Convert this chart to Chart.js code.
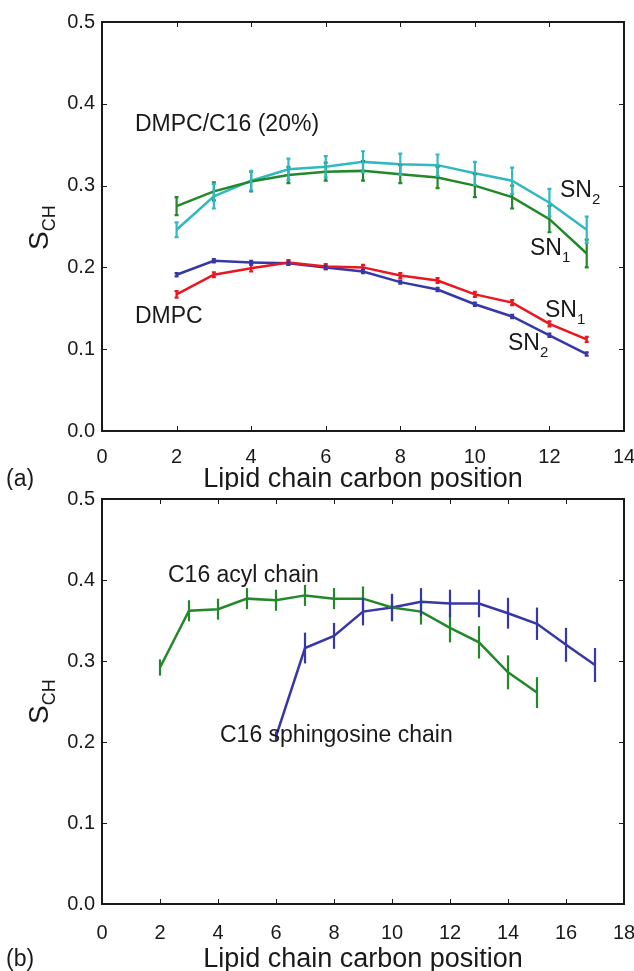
<!DOCTYPE html>
<html>
<head>
<meta charset="utf-8">
<script src="https://cdn.jsdelivr.net/npm/chart.js@4.4.1/dist/chart.umd.min.js"></script>
<style>
  html, body { margin: 0; padding: 0; background: #fff; }
  #wrap { position: relative; width: 634px; height: 971px; }
  .panel { position: absolute; left: 0; width: 634px; }
  #top { top: 0; height: 490px; }
  #bottom { top: 490px; height: 481px; }
</style>
</head>
<body>
<div id="wrap">
  <div class="panel" id="top"><canvas id="chartA"></canvas></div>
  <div class="panel" id="bottom"><canvas id="chartB"></canvas></div>
</div>
<script>
// ---- data, panel (a) ----
const positionsA = [2, 3, 4, 5, 6, 7, 8, 9, 10, 11, 12, 13];
const mixSn2 = [0.246, 0.287, 0.306, 0.320, 0.323, 0.329, 0.326, 0.325, 0.315, 0.306, 0.279, 0.246];
const mixSn2Err = [0.009, 0.015, 0.012, 0.013, 0.013, 0.013, 0.013, 0.013, 0.014, 0.016, 0.017, 0.016];
const mixSn1 = [0.275, 0.293, 0.305, 0.313, 0.317, 0.318, 0.314, 0.310, 0.300, 0.286, 0.259, 0.217];
const mixSn1Err = [0.011, 0.011, 0.012, 0.010, 0.011, 0.012, 0.011, 0.013, 0.014, 0.014, 0.016, 0.017];
const dmpcSn2 = [0.191, 0.208, 0.206, 0.205, 0.200, 0.195, 0.182, 0.173, 0.155, 0.140, 0.117, 0.094];
const dmpcSn2Err = [0.002, 0.002, 0.002, 0.002, 0.002, 0.002, 0.002, 0.002, 0.002, 0.002, 0.002, 0.002];
const dmpcSn1 = [0.167, 0.191, 0.199, 0.206, 0.201, 0.200, 0.190, 0.184, 0.167, 0.157, 0.131, 0.112];
const dmpcSn1Err = [0.004, 0.003, 0.004, 0.003, 0.003, 0.003, 0.003, 0.003, 0.003, 0.003, 0.003, 0.003];
const xTicksA = [0, 2, 4, 6, 8, 10, 12, 14];

// ---- data, panel (b) ----
const positionsAcyl = [2, 3, 4, 5, 6, 7, 8, 9, 10, 11, 12, 13, 14, 15];
const acylChain = [0.292, 0.362, 0.364, 0.377, 0.375, 0.381, 0.377, 0.377, 0.366, 0.361, 0.341, 0.323, 0.286, 0.261];
const acylChainErr = [0.010, 0.013, 0.013, 0.013, 0.013, 0.013, 0.013, 0.015, 0.016, 0.016, 0.018, 0.020, 0.021, 0.019];
const positionsSph = [6, 7, 8, 9, 10, 11, 12, 13, 14, 15, 16, 17];
const sphChain = [0.207, 0.316, 0.331, 0.361, 0.366, 0.373, 0.371, 0.371, 0.359, 0.346, 0.320, 0.295];
const sphChainErr = [0.006, 0.019, 0.016, 0.017, 0.017, 0.017, 0.017, 0.017, 0.019, 0.020, 0.021, 0.021];
const xTicksB = [0, 2, 4, 6, 8, 10, 12, 14, 16, 18];

const yTicks = [0, 0.1, 0.2, 0.3, 0.4, 0.5];

const FONT = '"Liberation Sans", Arial, Helvetica, sans-serif';
const COLORS = { cyan: '#30b9c2', green: '#23882a', blue: '#3737a8', red: '#ea1620' };

function series(xs, ys, errs, color, capW) {
  return {
    data: xs.map((x, i) => ({ x: x, y: ys[i] })),
    errors: errs,
    capW: capW,
    borderColor: color,
    backgroundColor: color,
    borderWidth: 2.5,
    pointRadius: 0,
    showLine: true,
    tension: 0
  };
}

// draws vertical error bars using the chart scales
const errorBars = {
  id: 'errorBars',
  afterDatasetsDraw(chart) {
    const ctx = chart.ctx;
    const xs = chart.scales.x, ys = chart.scales.y;
    chart.data.datasets.forEach(ds => {
      if (!ds.errors) return;
      ctx.save();
      ctx.strokeStyle = ds.borderColor;
      ctx.lineWidth = 2.2;
      ds.data.forEach((p, i) => {
        const e = ds.errors[i];
        const px = xs.getPixelForValue(p.x);
        const y1 = ys.getPixelForValue(p.y - e);
        const y2 = ys.getPixelForValue(p.y + e);
        ctx.beginPath();
        ctx.moveTo(px, y1);
        ctx.lineTo(px, y2);
        if (ds.capW) {
          ctx.moveTo(px - ds.capW, y1); ctx.lineTo(px + ds.capW, y1);
          ctx.moveTo(px - ds.capW, y2); ctx.lineTo(px + ds.capW, y2);
        }
        ctx.stroke();
      });
      ctx.restore();
    });
  }
};

// matplotlib-like box frame with inward ticks, plus text labels
const frame = {
  id: 'frame',
  afterDraw(chart) {
    const ctx = chart.ctx;
    const a = chart.chartArea;
    const xs = chart.scales.x, ys = chart.scales.y;
    const o = chart.options.plugins.frame;
    ctx.save();
    ctx.strokeStyle = '#1a1a1a';
    ctx.lineWidth = 1;
    ctx.beginPath();
    o.xTicks.forEach(v => {
      const px = Math.round(xs.getPixelForValue(v)) + 0.5;
      ctx.moveTo(px, a.bottom); ctx.lineTo(px, a.bottom - 5);
      ctx.moveTo(px, a.top); ctx.lineTo(px, a.top + 5);
    });
    yTicks.forEach(v => {
      const py = Math.round(ys.getPixelForValue(v)) + 0.5;
      ctx.moveTo(a.left, py); ctx.lineTo(a.left + 5, py);
      ctx.moveTo(a.right, py); ctx.lineTo(a.right - 5, py);
    });
    ctx.stroke();
    ctx.lineWidth = 2;
    ctx.strokeRect(a.left, a.top, a.right - a.left, a.bottom - a.top);

    ctx.fillStyle = '#1a1a1a';
    ctx.textBaseline = 'alphabetic';
    // x axis title
    ctx.font = '27px ' + FONT;
    ctx.textAlign = 'center';
    ctx.fillText('Lipid chain carbon position', (a.left + a.right) / 2, o.xTitleY);
    // panel tag
    ctx.textAlign = 'left';
    ctx.font = '23px ' + FONT;
    ctx.fillText(o.tag, 6, o.tagY);
    // y axis title S_CH, rotated
    ctx.save();
    ctx.translate(o.yTitleX, o.yTitleY);
    ctx.rotate(-Math.PI / 2);
    ctx.font = '28px ' + FONT;
    ctx.fillText('S', 0, 0);
    const sw = ctx.measureText('S').width;
    ctx.font = '18px ' + FONT;
    ctx.fillText('CH', sw, 7);
    ctx.restore();
    // annotations
    o.notes.forEach(n => {
      ctx.font = '23px ' + FONT;
      ctx.fillText(n.text, n.x, n.y);
      if (n.sub) {
        const w = ctx.measureText(n.text).width;
        ctx.font = '15px ' + FONT;
        ctx.fillText(n.sub, n.x + w, n.y + 7);
      }
    });
    ctx.restore();
  }
};

function makeOptions(xMax, xTicks, plotBottom, canvasH, plotTop, tickPad, extra) {
  return {
    responsive: false,
    animation: false,
    layout: { padding: { left: 0, right: 10, top: plotTop, bottom: 0 } },
    plugins: {
      legend: { display: false },
      tooltip: { enabled: false },
      frame: extra
    },
    scales: {
      x: {
        type: 'linear', min: 0, max: xMax,
        grid: { display: false, drawTicks: false },
        border: { display: false },
        afterBuildTicks: s => { s.ticks = xTicks.map(v => ({ value: v })); },
        afterFit: s => { s.height = canvasH - plotBottom; s.paddingLeft = 0; s.paddingRight = 0; },
        ticks: { font: { size: 20, family: FONT }, color: '#1a1a1a', padding: tickPad, maxRotation: 0 }
      },
      y: {
        type: 'linear', min: 0, max: 0.5,
        grid: { display: false, drawTicks: false },
        border: { display: false },
        afterBuildTicks: s => { s.ticks = yTicks.map(v => ({ value: v })); },
        afterFit: s => { s.width = 102; s.paddingTop = 0; s.paddingBottom = 0; },
        ticks: { font: { size: 20, family: FONT }, color: '#1a1a1a', padding: 7,
                 callback: v => v.toFixed(1) }
      }
    }
  };
}

function sizeCanvas(id, w, h) {
  const c = document.getElementById(id);
  c.width = w; c.height = h;
  c.style.width = w + 'px'; c.style.height = h + 'px';
  return c;
}

new Chart(sizeCanvas('chartA', 634, 490), {
  type: 'scatter',
  data: {
    datasets: [
      series(positionsA, mixSn1, mixSn1Err, COLORS.green, 2),
      series(positionsA, mixSn2, mixSn2Err, COLORS.cyan, 2),
      series(positionsA, dmpcSn1, dmpcSn1Err, COLORS.red, 2),
      series(positionsA, dmpcSn2, dmpcSn2Err, COLORS.blue, 2)
    ]
  },
  options: makeOptions(14, xTicksA, 431, 490, 22, 14, {
    xTicks: xTicksA, xTitleY: 487, tag: '(a)', tagY: 486,
    yTitleX: 48, yTitleY: 250,
    notes: [
      { text: 'DMPC/C16 (20%)', x: 135, y: 131 },
      { text: 'SN', sub: '2', x: 560, y: 197 },
      { text: 'SN', sub: '1', x: 530, y: 255 },
      { text: 'DMPC', x: 135, y: 323 },
      { text: 'SN', sub: '1', x: 545, y: 317 },
      { text: 'SN', sub: '2', x: 508, y: 350 }
    ]
  }),
  plugins: [errorBars, frame]
});

new Chart(sizeCanvas('chartB', 634, 481), {
  type: 'scatter',
  data: {
    datasets: [
      series(positionsAcyl, acylChain, acylChainErr, COLORS.green, 0),
      series(positionsSph, sphChain, sphChainErr, COLORS.blue, 0)
    ]
  },
  options: makeOptions(18, xTicksB, 414, 481, 9, 17, {
    xTicks: xTicksB, xTitleY: 477, tag: '(b)', tagY: 476,
    yTitleX: 48, yTitleY: 234,
    notes: [
      { text: 'C16 acyl chain', x: 168, y: 92 },
      { text: 'C16 sphingosine chain', x: 220, y: 252 }
    ]
  }),
  plugins: [errorBars, frame]
});
</script>
</body>
</html>
